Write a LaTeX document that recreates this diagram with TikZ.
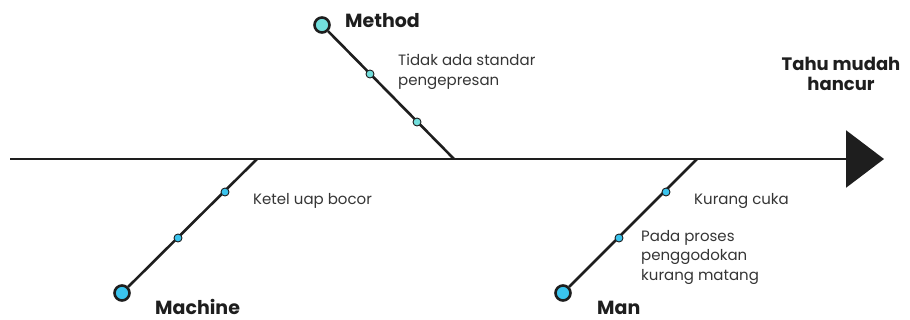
\documentclass[tikz,border=0pt]{standalone}
\usepackage{fontspec}
\setmainfont{Poppins}
\usetikzlibrary{arrows.meta}
\definecolor{methodcol}{HTML}{72DEDC}
\definecolor{machcol}{HTML}{3AC4EE}
\definecolor{bonecol}{HTML}{1E1E1E}
\begin{document}
\begin{tikzpicture}[x=1pt, y=-1pt,
    bone/.style={draw=bonecol, line width=2.6pt},
    head/.style={circle, draw=bonecol, line width=2.6pt, minimum size=15pt, inner sep=0pt},
    knot/.style={circle, draw=bonecol, line width=0.9pt, minimum size=8pt, inner sep=0pt},
    cat/.style={font=\bfseries\fontsize{19}{19}\selectfont, text=bonecol, inner sep=0pt},
    cause/.style={font=\fontsize{15}{19.5}\selectfont, text=bonecol!90, anchor=west, align=left, inner sep=0pt}]
    \useasboundingbox (0,0) rectangle (910,320);

    % tulang utama
    \coordinate (tail) at (10,159);
    \coordinate (tip) at (884,159);
    \draw[bone, -{Triangle[length=38pt, width=57pt]}] (tail) -- (tip);
    \node[cat, align=center, font=\bfseries\fontsize{18}{19.5}\selectfont] (effect) at (841,74) {Tahu mudah\\hancur};

    % Method
    \coordinate (jmethod) at (454,159);
    \node[head, fill=methodcol] (method) at (322,25) {};
    \draw[bone] (method) -- (jmethod);
    \node[knot, fill=methodcol] (m1) at (370,74) {};
    \node[knot, fill=methodcol] (m2) at (417,122) {};
    \node[cat, anchor=base west] (methodlbl) at (345,28) {Method};
    \node[cause] (c1) at (398,72) {Tidak ada standar\\pengepresan};

    % Machine
    \coordinate (jmach) at (257,159);
    \node[head, fill=machcol] (mach) at (122,293) {};
    \draw[bone] (mach) -- (jmach);
    \node[knot, fill=machcol] (k1) at (225,192) {};
    \node[knot, fill=machcol] (k2) at (178,238) {};
    \node[cat, anchor=base west] (machlbl) at (155,315) {Machine};
    \node[cause] (c2) at (253,201) {Ketel uap bocor};

    % Man
    \coordinate (jman) at (697,159);
    \node[head, fill=machcol] (man) at (563,293) {};
    \draw[bone] (man) -- (jman);
    \node[knot, fill=machcol] (n1) at (666,192) {};
    \node[knot, fill=machcol] (n2) at (619,238) {};
    \node[cat, anchor=base west] (manlbl) at (597,315) {Man};
    \node[cause] (c3) at (694,201) {Kurang cuka};
    \node[cause] (c4) at (641,257) {Pada proses\\penggodokan\\kurang matang};
\end{tikzpicture}
\end{document}
